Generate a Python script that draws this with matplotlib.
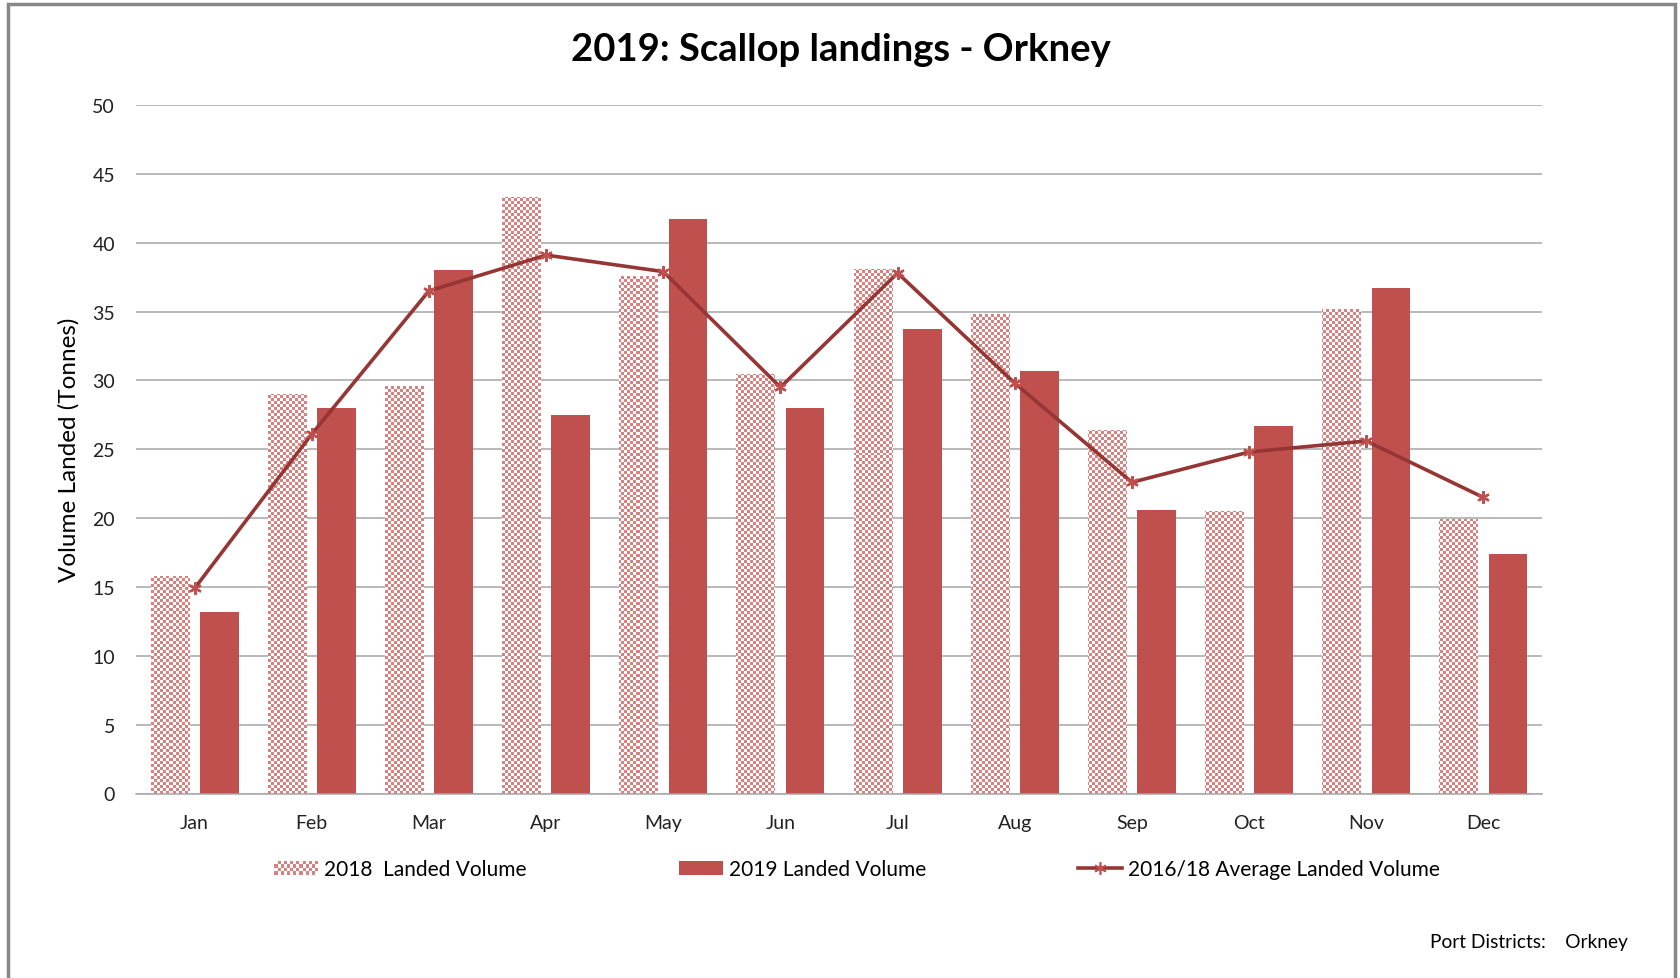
import numpy as np
import matplotlib
matplotlib.use("Agg")
import matplotlib.pyplot as plt
from matplotlib.patches import Rectangle
from matplotlib.lines import Line2D
from matplotlib.colors import ListedColormap

months = ["Jan", "Feb", "Mar", "Apr", "May", "Jun",
          "Jul", "Aug", "Sep", "Oct", "Nov", "Dec"]
landed_2018 = [15.8, 29.0, 29.6, 43.3, 37.6, 30.5, 38.1, 34.8, 26.4, 20.5, 35.2, 19.9]
landed_2019 = [13.2, 28.0, 38.0, 27.5, 41.7, 28.0, 33.7, 30.7, 20.6, 26.7, 36.7, 17.4]
avg_1618 = [14.9, 26.1, 36.5, 39.1, 37.9, 29.5, 37.8, 29.8, 22.6, 24.8, 25.6, 21.5]
yticks = [0, 5, 10, 15, 20, 25, 30, 35, 40, 45, 50]

RED = "#C0504D"
PINK = "#D8817F"
LINE = "#963634"

plt.rcParams["font.family"] = ["Lato", "DejaVu Sans"]

W, H = 1681, 979
fig = plt.figure(figsize=(W / 100, H / 100), dpi=100)
ax_l, ax_r, ax_t, ax_b = 136, 1542, 106, 794.5
ax = fig.add_axes([ax_l / W, 1 - ax_b / H, (ax_r - ax_l) / W, (ax_b - ax_t) / H])

x = np.arange(len(months))
bw = 0.33
off = 0.21

# checkerboard bars for 2018
bars18 = ax.bar(x - off, landed_2018, bw, facecolor="none", edgecolor="none", zorder=2)
cell = 3
cols = int(round((ax_r - ax_l) / cell))
rows = int(round((ax_b - ax_t) / cell))
checker = np.indices((rows, cols)).sum(axis=0) % 2
cmap = ListedColormap(["white", PINK])
for b in bars18:
    im = ax.imshow(checker, cmap=cmap, extent=(-0.5, 11.5, 0, 50), aspect="auto",
                   interpolation="nearest", zorder=2)
    im.set_clip_path(b)

ax.bar(x + off, landed_2019, bw, color=RED, zorder=2)
ax.plot(x, avg_1618, color=LINE, lw=2.6, marker=(6, 2, 0), ms=9,
        mec=RED, mew=1.6, zorder=3)

ax.set_xlim(-0.5, 11.5)
ax.set_ylim(0, 50)
ax.set_yticks(yticks)
ax.set_xticks(x)
ax.set_xticklabels(months)
ax.tick_params(axis="both", length=0, labelsize=14, colors="#222222")
ax.tick_params(axis="x", pad=15)
ax.tick_params(axis="y", pad=15)
ax.yaxis.grid(True, color="#A6A6A6", lw=1.1, zorder=0)
ax.set_axisbelow(True)
for s in ["top", "right", "left"]:
    ax.spines[s].set_visible(False)
ax.spines["bottom"].set_color("#A6A6A6")
ax.spines["bottom"].set_linewidth(1.1)

fig.text(69 / W, 1 - 450 / H, "Volume Landed (Tonnes)", rotation=90,
         ha="center", va="center", fontsize=17.5)
fig.suptitle("2019: Scallop landings - Orkney", x=0.5, y=1 - 50 / H,
             va="center", fontsize=27.5, fontweight="bold")
fig.text(1430 / W, 1 - 943 / H, "Port Districts:    Orkney", ha="left",
         va="center", fontsize=13.8)

# frame around the chart area
fig.patches.append(Rectangle((8 / W, -0.02), (1675 - 8) / W, 1 - 5 / H + 0.02,
                             transform=fig.transFigure, fill=False,
                             edgecolor="#878787", lw=2.5))


class CheckerHandler:
    def legend_artist(self, legend, orig_handle, fontsize, handlebox):
        x0, y0 = -handlebox.xdescent, -handlebox.ydescent
        w, h = handlebox.width, handlebox.height
        nc, nr = 14, 4
        cw, ch = w / nc, h / nr
        first = None
        for i in range(nc):
            for j in range(nr):
                if (i + j) % 2 == 0:
                    r = Rectangle((x0 + i * cw, y0 + j * ch), cw, ch, facecolor=PINK,
                                  edgecolor="none", transform=handlebox.get_transform())
                    handlebox.add_artist(r)
                    if first is None:
                        first = r
        return first


h18 = Rectangle((0, 0), 1, 1)
h19 = Rectangle((0, 0), 1, 1, facecolor=RED)
havg = Line2D([], [], color=LINE, lw=2.6, marker=(6, 2, 0), ms=9, mec=RED, mew=1.2)
fig.legend([h18, h19, havg],
           ["2018  Landed Volume", "2019 Landed Volume", "2016/18 Average Landed Volume"],
           handler_map={h18: CheckerHandler()},
           loc="center", bbox_to_anchor=(0.51, 1 - 870 / H), ncol=3, frameon=False,
           fontsize=15, handlelength=2.1, handleheight=0.65, handletextpad=0.3,
           columnspacing=7.3)

fig.savefig("out.png", dpi=100)
